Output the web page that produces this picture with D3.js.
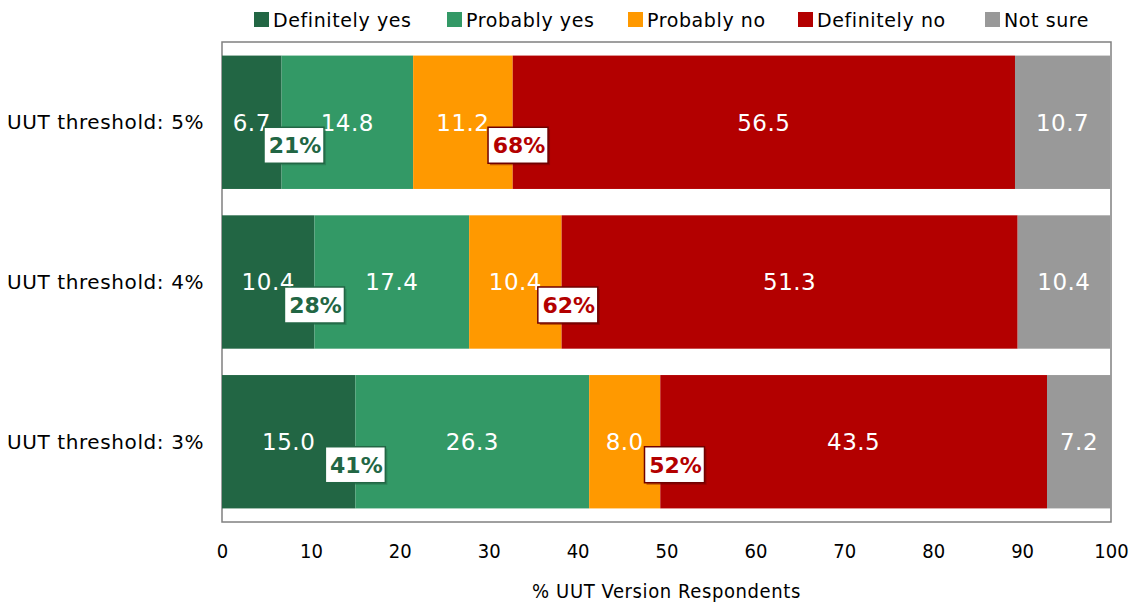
<!DOCTYPE html>
<html>
<head>
<meta charset="utf-8">
<script src="https://cdn.jsdelivr.net/npm/d3@7"></script>
<style>
  body { margin: 0; background: #fff; }
  text { font-family: "DejaVu Sans", sans-serif; }
</style>
</head>
<body>
<div id="chart"></div>
<script>
// the data
var rows = ["UUT threshold: 5%", "UUT threshold: 4%", "UUT threshold: 3%"];
var answers = ["Definitely yes", "Probably yes", "Probably no", "Definitely no", "Not sure"];
var definitelyYes = [6.7, 10.4, 15.0];
var probablyYes = [14.8, 17.4, 26.3];
var probablyNo = [11.2, 10.4, 8.0];
var definitelyNo = [56.5, 51.3, 43.5];
var notSure = [10.7, 10.4, 7.2];
var yesTotals = ["21%", "28%", "41%"];
var noTotals = ["68%", "62%", "52%"];
// where the total boxes sit, in % units
var yesLabelAt = [8.1, 10.4, 15.0];
var noLabelAt = [33.3, 38.9, 50.9];
var xTicks = [0, 10, 20, 30, 40, 50, 60, 70, 80, 90, 100];

var colors = ["#226644", "#339966", "#ff9900", "#b30000", "#999999"];

var svgWidth = 1136, svgHeight = 606;
var margin = { top: 42, right: 25, bottom: 84, left: 222 };
var width = svgWidth - margin.left - margin.right,
    height = svgHeight - margin.top - margin.bottom;

var svg = d3.select("#chart").append("svg")
    .attr("width", svgWidth)
    .attr("height", svgHeight);

var chart = svg.append("g")
    .attr("transform", `translate(${margin.left}, ${margin.top})`);

var x = d3.scaleLinear().domain([0, 100]).range([0, width]);
var y = d3.scaleBand().domain(rows).range([0, height])
    .paddingInner(0.165).paddingOuter(0.085);

// build table for stacking
var table = rows.map(function(r, i) {
    return {
        row: r,
        "Definitely yes": definitelyYes[i],
        "Probably yes": probablyYes[i],
        "Probably no": probablyNo[i],
        "Definitely no": definitelyNo[i],
        "Not sure": notSure[i]
    };
});
var stacked = d3.stack().keys(answers)(table);

// frame
chart.append("rect")
    .attr("x", 0).attr("y", 0)
    .attr("width", width).attr("height", height)
    .attr("fill", "none")
    .attr("stroke", "#808080")
    .attr("stroke-width", 1.5);

var layers = chart.selectAll(".layer")
    .data(stacked)
    .enter().append("g")
    .attr("fill", (d, i) => colors[i]);

layers.selectAll("rect")
    .data(d => d)
    .enter().append("rect")
    .attr("x", d => x(d[0]))
    .attr("y", d => y(d.data.row))
    .attr("width", d => x(d[1]) - x(d[0]))
    .attr("height", y.bandwidth());

// values in the segments
layers.selectAll("text")
    .data(d => d)
    .enter().append("text")
    .attr("x", d => (x(d[0]) + x(d[1])) / 2)
    .attr("y", d => y(d.data.row) + y.bandwidth() / 2)
    .attr("dy", "0.36em")
    .attr("text-anchor", "middle")
    .attr("fill", "#fff")
    .style("font-size", "23px")
    .style("letter-spacing", "0.5px")
    .text(d => (d[1] - d[0]).toFixed(1));

// total boxes
function totalBox(labels, at, stroke, color) {
    var g = chart.selectAll(null)
        .data(labels)
        .enter().append("g")
        .attr("transform", (d, i) => `translate(${x(at[i])}, ${y(rows[i]) + y.bandwidth() / 2 + 23})`);
    g.append("rect")
        .attr("x", -28).attr("y", -16)
        .attr("width", 60).attr("height", 36)
        .attr("fill", stroke).attr("opacity", 0.45);
    g.append("rect")
        .attr("x", -30).attr("y", -18)
        .attr("width", 60).attr("height", 36)
        .attr("fill", "#fff")
        .attr("stroke", stroke)
        .attr("stroke-width", 1.5);
    g.append("text")
        .attr("x", 1).attr("y", 0)
        .attr("dy", "0.36em")
        .attr("text-anchor", "middle")
        .attr("fill", color)
        .style("font-size", "22px")
        .style("font-weight", "bold")
        .text(d => d);
}
totalBox(yesTotals, yesLabelAt, "#226644", "#226644");
totalBox(noTotals, noLabelAt, "#700000", "#b30000");

// y labels
svg.selectAll(".ylab")
    .data(rows)
    .enter().append("text")
    .attr("x", 7)
    .attr("y", d => margin.top + y(d) + y.bandwidth() / 2)
    .attr("dy", "0.36em")
    .style("font-size", "20px")
    .style("letter-spacing", "0.6px")
    .attr("fill", "#000")
    .text(d => d);

// x axis
var xAxis = chart.append("g")
    .attr("transform", `translate(0, ${height})`)
    .call(d3.axisBottom(x).tickValues(xTicks).tickSize(0).tickPadding(22));
xAxis.select(".domain").remove();
xAxis.selectAll("text")
    .style("font-size", "20px")
    .style("font-family", "'DejaVu Sans Condensed', sans-serif")
    .attr("fill", "#000");

chart.append("text")
    .attr("x", width / 2)
    .attr("y", height + 76)
    .attr("text-anchor", "middle")
    .style("font-size", "20px")
    .style("font-family", "'DejaVu Sans Condensed', sans-serif")
    .style("letter-spacing", "0.6px")
    .text("% UUT Version Respondents");

// legend
var legendX = [254, 447, 628, 798, 985];
var legend = svg.selectAll(".leg")
    .data(answers)
    .enter().append("g")
    .attr("transform", (d, i) => `translate(${legendX[i]}, 12)`);
legend.append("rect")
    .attr("width", 15).attr("height", 15)
    .attr("fill", (d, i) => colors[i]);
legend.append("text")
    .attr("x", 19).attr("y", 8)
    .attr("dy", "0.36em")
    .style("font-size", "19px")
    .style("letter-spacing", "0.6px")
    .text(d => d);
</script>
</body>
</html>
